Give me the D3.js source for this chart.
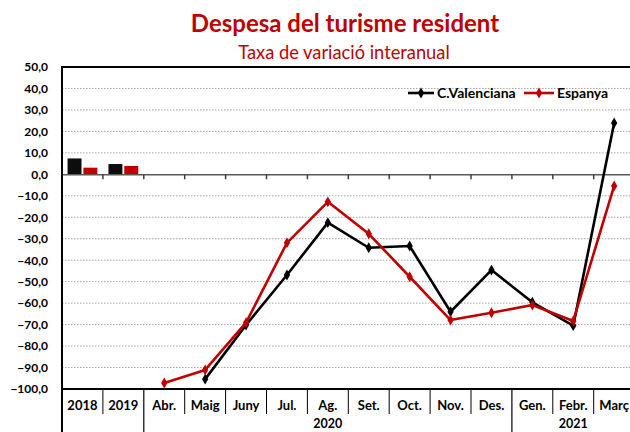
<!DOCTYPE html>
<html><head><meta charset="utf-8">
<script src="https://cdn.jsdelivr.net/npm/d3@7"></script>
<style>body{margin:0;background:#fff}svg{display:block}text{font-family:Lato,"Open Sans",sans-serif}</style>
</head><body><svg id="c" width="630" height="432"></svg>
<script>
const categories = ["2018","2019","Abr.","Maig","Juny","Jul.","Ag.","Set.","Oct.","Nov.","Des.","Gen.","Febr.","Març"];
const valencia = [null,null,null,-95.4,-70.2,-46.9,-22.5,-34.2,-33.4,-64.0,-44.6,-59.6,-70.5,23.9];
const espanya  = [null,null,-97.2,-91.1,-69.1,-31.9,-12.8,-27.7,-47.7,-67.9,-64.5,-60.9,-68.3,-5.4];
const barYears = ["2018","2019"];
const barValencia = [7.4,4.8];
const barEspanya = [3.1,3.9];
const yTicks = d3.range(-100, 50.1, 10);
const yearGroups = [{label:"2020", from:"Abr.", to:"Des."},{label:"2021", from:"Gen.", to:"Març"}];
const seriesNames = ["C.Valenciana","Espanya"];
const colors = ["#000000","#c00000"];

const svg = d3.select("#c");
const L = 62, T = 67, B = 389, R = 634.6;
const x = d3.scaleBand().domain(categories).range([L, R]).padding(0);
const y = d3.scaleLinear().domain([-100, 50]).range([B, T]);

// title
svg.append("text").attr("x",345).attr("y",32).attr("text-anchor","middle")
  .attr("fill","#c00000").attr("font-size",24).attr("font-weight","bold").text("Despesa del turisme resident");
svg.append("text").attr("x",344).attr("y",59).attr("text-anchor","middle")
  .attr("fill","#c00000").attr("font-size",18.3).text("Taxa de variació interanual");

// gridlines
svg.append("g").selectAll("line").data(yTicks.filter(v=>v!==0 && v>-100 && v<50)).join("line")
  .attr("x1",L).attr("x2",R).attr("y1",d=>y(d)).attr("y2",d=>y(d))
  .attr("stroke","#a6a6a6").attr("stroke-width",1).attr("stroke-dasharray","1.5,1.5");

// y axis labels
const yAxis = d3.axisLeft(y).tickValues(yTicks).tickSize(0).tickPadding(14)
  .tickFormat(d => d3.format(".1f")(d).replace(".", ","));
const gy = svg.append("g").attr("transform",`translate(${L},0)`).call(yAxis);
gy.select(".domain").remove();
gy.selectAll("text").attr("font-size",12).attr("font-weight","bold").attr("fill","#000")
  .attr("font-family","Lato, sans-serif");

// bars
const xb = d3.scaleBand().domain([0,1]).range([0, x.bandwidth()]).paddingInner(0.12).paddingOuter(0.35);
const barData = barYears.flatMap((yr,i)=>[{c:yr,s:0,v:barValencia[i]},{c:yr,s:1,v:barEspanya[i]}]);
svg.append("g").selectAll("rect").data(barData).join("rect")
  .attr("x",d=>x(d.c)+xb(d.s)).attr("width",xb.bandwidth())
  .attr("y",d=>y(Math.max(0,d.v))).attr("height",d=>Math.abs(y(d.v)-y(0)))
  .attr("fill",d=>d.s===0?"#0d0d0d":"#c00000");

// zero axis with ticks
const gz = svg.append("g").attr("transform",`translate(0,${y(0)})`)
  .call(d3.axisBottom(x).tickValues([]).tickSizeOuter(0));
gz.select(".domain").attr("stroke","#595959").attr("stroke-width",1.5);
gz.selectAll(".bt").data(categories).join("line").attr("class","bt")
  .attr("x1",d=>x(d)).attr("x2",d=>x(d)).attr("y1",0).attr("y2",5)
  .attr("stroke","#404040").attr("stroke-width",1.5);

// frame
svg.append("line").attr("x1",L).attr("x2",R).attr("y1",T).attr("y2",T).attr("stroke","#000").attr("stroke-width",2);
svg.append("line").attr("x1",L).attr("x2",R).attr("y1",B).attr("y2",B).attr("stroke","#000").attr("stroke-width",2);
svg.append("line").attr("x1",L).attr("x2",L).attr("y1",T-1).attr("y2",432).attr("stroke","#000").attr("stroke-width",2);

// lines
const allSeries = [valencia, espanya];
const line = d3.line().defined(d=>d!=null).x((d,i)=>x(categories[i])+x.bandwidth()/2).y(d=>y(d));
const diamond = d3.symbol().type(d3.symbolDiamond).size(34);
allSeries.forEach((s,k)=>{
  svg.append("path").datum(s).attr("d",line).attr("fill","none")
    .attr("stroke",colors[k]).attr("stroke-width",2.6).attr("stroke-linejoin","round");
  svg.append("g").selectAll("path").data(s.map((v,i)=>({v,i})).filter(d=>d.v!=null)).join("path")
    .attr("d",diamond).attr("fill",colors[k])
    .attr("transform",d=>`translate(${x(categories[d.i])+x.bandwidth()/2},${y(d.v)})`);
});

// x category labels + separators
const gx = svg.append("g");
gx.selectAll("text").data(categories).join("text")
  .attr("x",d=>x(d)+x.bandwidth()/2).attr("y",410).attr("text-anchor","middle")
  .attr("font-size",13).attr("font-weight","bold").attr("fill","#000").text(d=>d);
const longSeps = new Set(["2018","Abr.","Gen."]);
gx.selectAll("line").data(categories).join("line")
  .attr("x1",d=>x(d)).attr("x2",d=>x(d)).attr("y1",B)
  .attr("y2",d=>longSeps.has(d)?432:414)
  .attr("stroke","#000").attr("stroke-width",d=>longSeps.has(d)?1.2:1);
svg.append("g").selectAll("text").data(yearGroups).join("text")
  .attr("x",d=>(x(d.from)+x(d.to)+x.bandwidth())/2).attr("y",428)
  .attr("text-anchor","middle").attr("font-size",12.5).attr("font-weight","bold").text(d=>d.label);

// legend
const lg = svg.append("g");
const legX = [408, 524], legW = [26, 30];
seriesNames.forEach((n,k)=>{
  const cy = 93;
  lg.append("line").attr("x1",legX[k]).attr("x2",legX[k]+legW[k]).attr("y1",cy).attr("y2",cy)
    .attr("stroke",colors[k]).attr("stroke-width",2.6);
  lg.append("path").attr("d",diamond).attr("fill",colors[k]).attr("transform",`translate(${legX[k]+legW[k]/2},${cy})`);
  lg.append("text").attr("x",legX[k]+legW[k]+3).attr("y",cy+5).attr("font-size",14)
    .attr("font-weight","bold").attr("fill","#000").text(n);
});
</script></body></html>
